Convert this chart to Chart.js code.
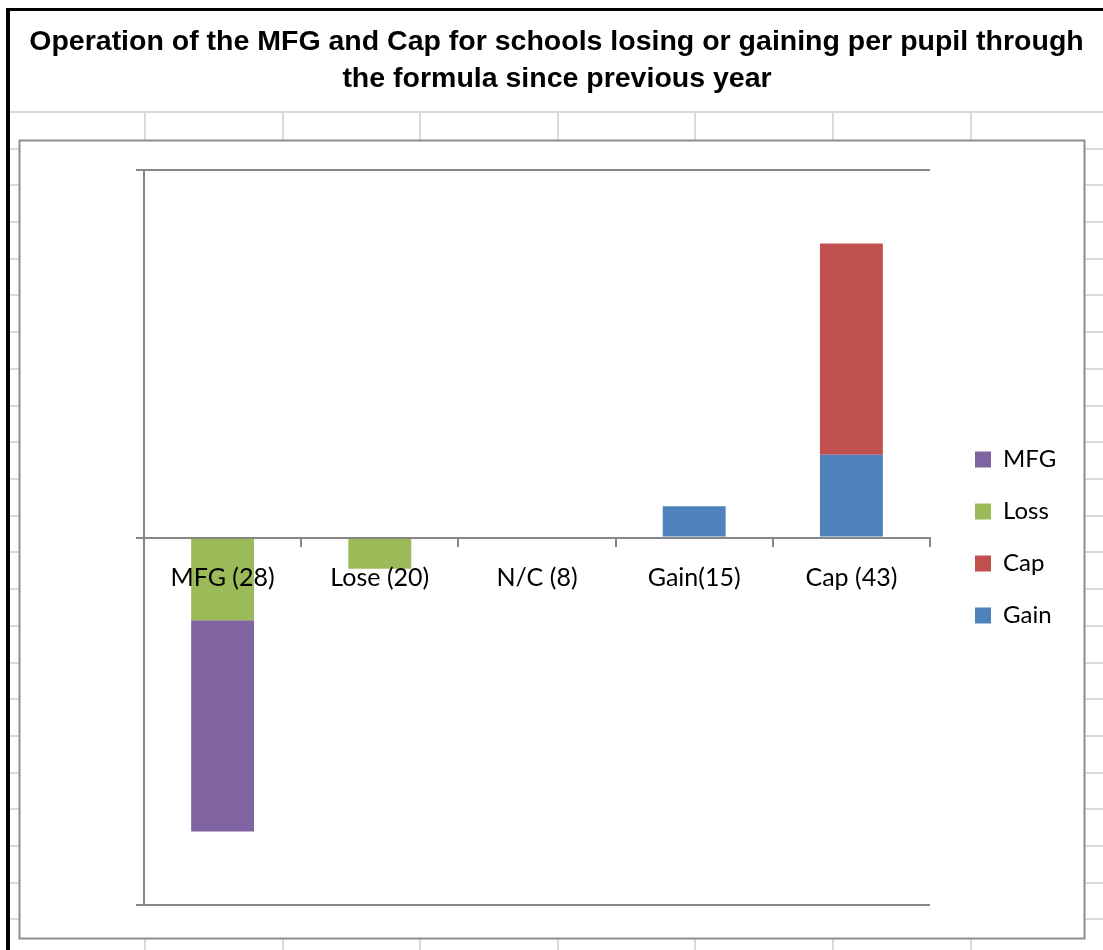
<!DOCTYPE html>
<html>
<head>
<meta charset="utf-8">
<title>Operation of the MFG and Cap</title>
<script src="https://cdn.jsdelivr.net/npm/chart.js@4.4.1/dist/chart.umd.min.js"></script>
<style>
  html, body { margin: 0; padding: 0; background: #fff; }
  #chart { display: block; }
</style>
</head>
<body>
<canvas id="chart" width="1103" height="950"></canvas>
<script>
(function () {
    'use strict';

    /* ── Data ─────────────────────────────────────────────────────────── */
    const titleLines = [
        'Operation of the MFG and Cap for schools losing or gaining per pupil through',
        'the formula since previous year'
    ];
    const categories = ['MFG (28)', 'Lose (20)', 'N/C (8)', 'Gain(15)', 'Cap (43)'];

    // series in Excel stacking order (first = nearest the axis)
    const gainValues = [null, null, null, 0.85, 2.25];
    const capValues  = [null, null, null, null, 5.75];
    const lossValues = [-2.25, -0.85, null, null, null];
    const mfgValues  = [-5.75, null, null, null, null];

    const yMin = -10;
    const yMax = 10;
    const yStep = 10;

    /* ── Office 2007 palette ──────────────────────────────────────────── */
    const COLORS = {
        mfg: '#8064a2',
        loss: '#9bbb59',
        cap: '#c0504d',
        gain: '#4f81bd',
        axis: '#878787',
        sheet: '#dadada',
        frame: '#8e8e8e'
    };

    const TICK_FONT = { family: 'Lato', size: 25 };
    const LEGEND_FONT = { family: 'Lato', size: 24 };
    const LEGEND_PAD = 28;
    const LEGEND_BOX = 16;

    // work out the legend width so the boxes land where Excel put them
    const measure = document.createElement('canvas').getContext('2d');
    measure.font = LEGEND_FONT.size + 'px ' + LEGEND_FONT.family;
    const maxText = Math.max(...['MFG', 'Loss', 'Cap', 'Gain'].map(t => measure.measureText(t).width));
    const legendWidth = LEGEND_PAD + LEGEND_BOX + LEGEND_FONT.size / 2 + maxText + 10;
    const legendLeft = 975 - LEGEND_PAD;
    const padRight = Math.max(0, 1103 - legendLeft - legendWidth);

    /* ── Worksheet backdrop, frame and title ──────────────────────────── */
    const sheetPlugin = {
        id: 'sheet',
        beforeDraw(chart) {
            const ctx = chart.ctx;
            const W = chart.width, H = chart.height;
            ctx.save();
            ctx.fillStyle = '#fff';
            ctx.fillRect(0, 0, W, H);

            // spreadsheet cell grid
            ctx.strokeStyle = COLORS.sheet;
            ctx.lineWidth = 2;
            ctx.beginPath();
            for (let y = 112; y < H; y += 36.7) {
                ctx.moveTo(10, Math.round(y));
                ctx.lineTo(W, Math.round(y));
            }
            for (let k = 0; k < 7; k++) {
                const x = Math.round(145 + k * 137.6);
                ctx.moveTo(x, 112);
                ctx.lineTo(x, H);
            }
            ctx.stroke();

            // embedded chart box
            ctx.fillStyle = '#fff';
            ctx.fillRect(19, 140, 1066, 799);
            ctx.strokeStyle = COLORS.frame;
            ctx.lineWidth = 2;
            ctx.strokeRect(19.5, 140.5, 1065, 798);

            // black selection border
            ctx.fillStyle = '#000';
            ctx.fillRect(6, 8, W - 6, 3);
            ctx.fillRect(6, 8, 4, H - 8);

            // title
            ctx.font = 'bold 28.5px "Liberation Sans", Arial, sans-serif';
            ctx.textAlign = 'center';
            ctx.textBaseline = 'alphabetic';
            ctx.fillText(titleLines[0], 556.5, 50);
            ctx.fillText(titleLines[1], 557, 87);
            ctx.restore();
        }
    };

    const ctx = document.getElementById('chart').getContext('2d');
    new Chart(ctx, {
        type: 'bar',
        data: {
            labels: categories,
            datasets: [
                { label: 'Gain', data: gainValues, backgroundColor: COLORS.gain },
                { label: 'Cap', data: capValues, backgroundColor: COLORS.cap },
                { label: 'Loss', data: lossValues, backgroundColor: COLORS.loss },
                { label: 'MFG', data: mfgValues, backgroundColor: COLORS.mfg }
            ]
        },
        options: {
            responsive: false,
            animation: false,
            devicePixelRatio: 1,
            barPercentage: 0.4,
            categoryPercentage: 1,
            layout: { padding: { top: 170, left: 0, right: padRight, bottom: 45 } },
            plugins: {
                title: { display: false },
                tooltip: { enabled: false },
                legend: {
                    position: 'right',
                    reverse: true,
                    labels: {
                        boxWidth: LEGEND_BOX,
                        boxHeight: LEGEND_BOX,
                        padding: LEGEND_PAD,
                        color: '#000',
                        font: LEGEND_FONT
                    }
                }
            },
            scales: {
                x: {
                    stacked: true,
                    position: { y: 0 },
                    grid: {
                        offset: true,
                        drawOnChartArea: false,
                        drawTicks: true,
                        tickLength: 8,
                        color: COLORS.axis,
                        lineWidth: 2
                    },
                    border: { color: COLORS.axis, width: 2, z: 1 },
                    ticks: {
                        z: 2,
                        color: '#000',
                        font: TICK_FONT,
                        padding: 17,
                        maxRotation: 0,
                        autoSkip: false
                    }
                },
                y: {
                    stacked: true,
                    min: yMin,
                    max: yMax,
                    grid: {
                        color: COLORS.axis,
                        lineWidth: 2,
                        drawTicks: true,
                        tickLength: 8
                    },
                    border: { color: COLORS.axis, width: 2 },
                    ticks: { display: false, stepSize: yStep },
                    afterFit(scale) { scale.width = 144; }
                },
                // empty spacer between plot and legend
                gap: {
                    type: 'linear',
                    position: 'right',
                    grid: { display: false, drawTicks: false },
                    border: { display: false },
                    ticks: { display: false },
                    afterFit(scale) { scale.width = legendLeft - 930; }
                }
            }
        },
        plugins: [sheetPlugin]
    });
})();
</script>
</body>
</html>
